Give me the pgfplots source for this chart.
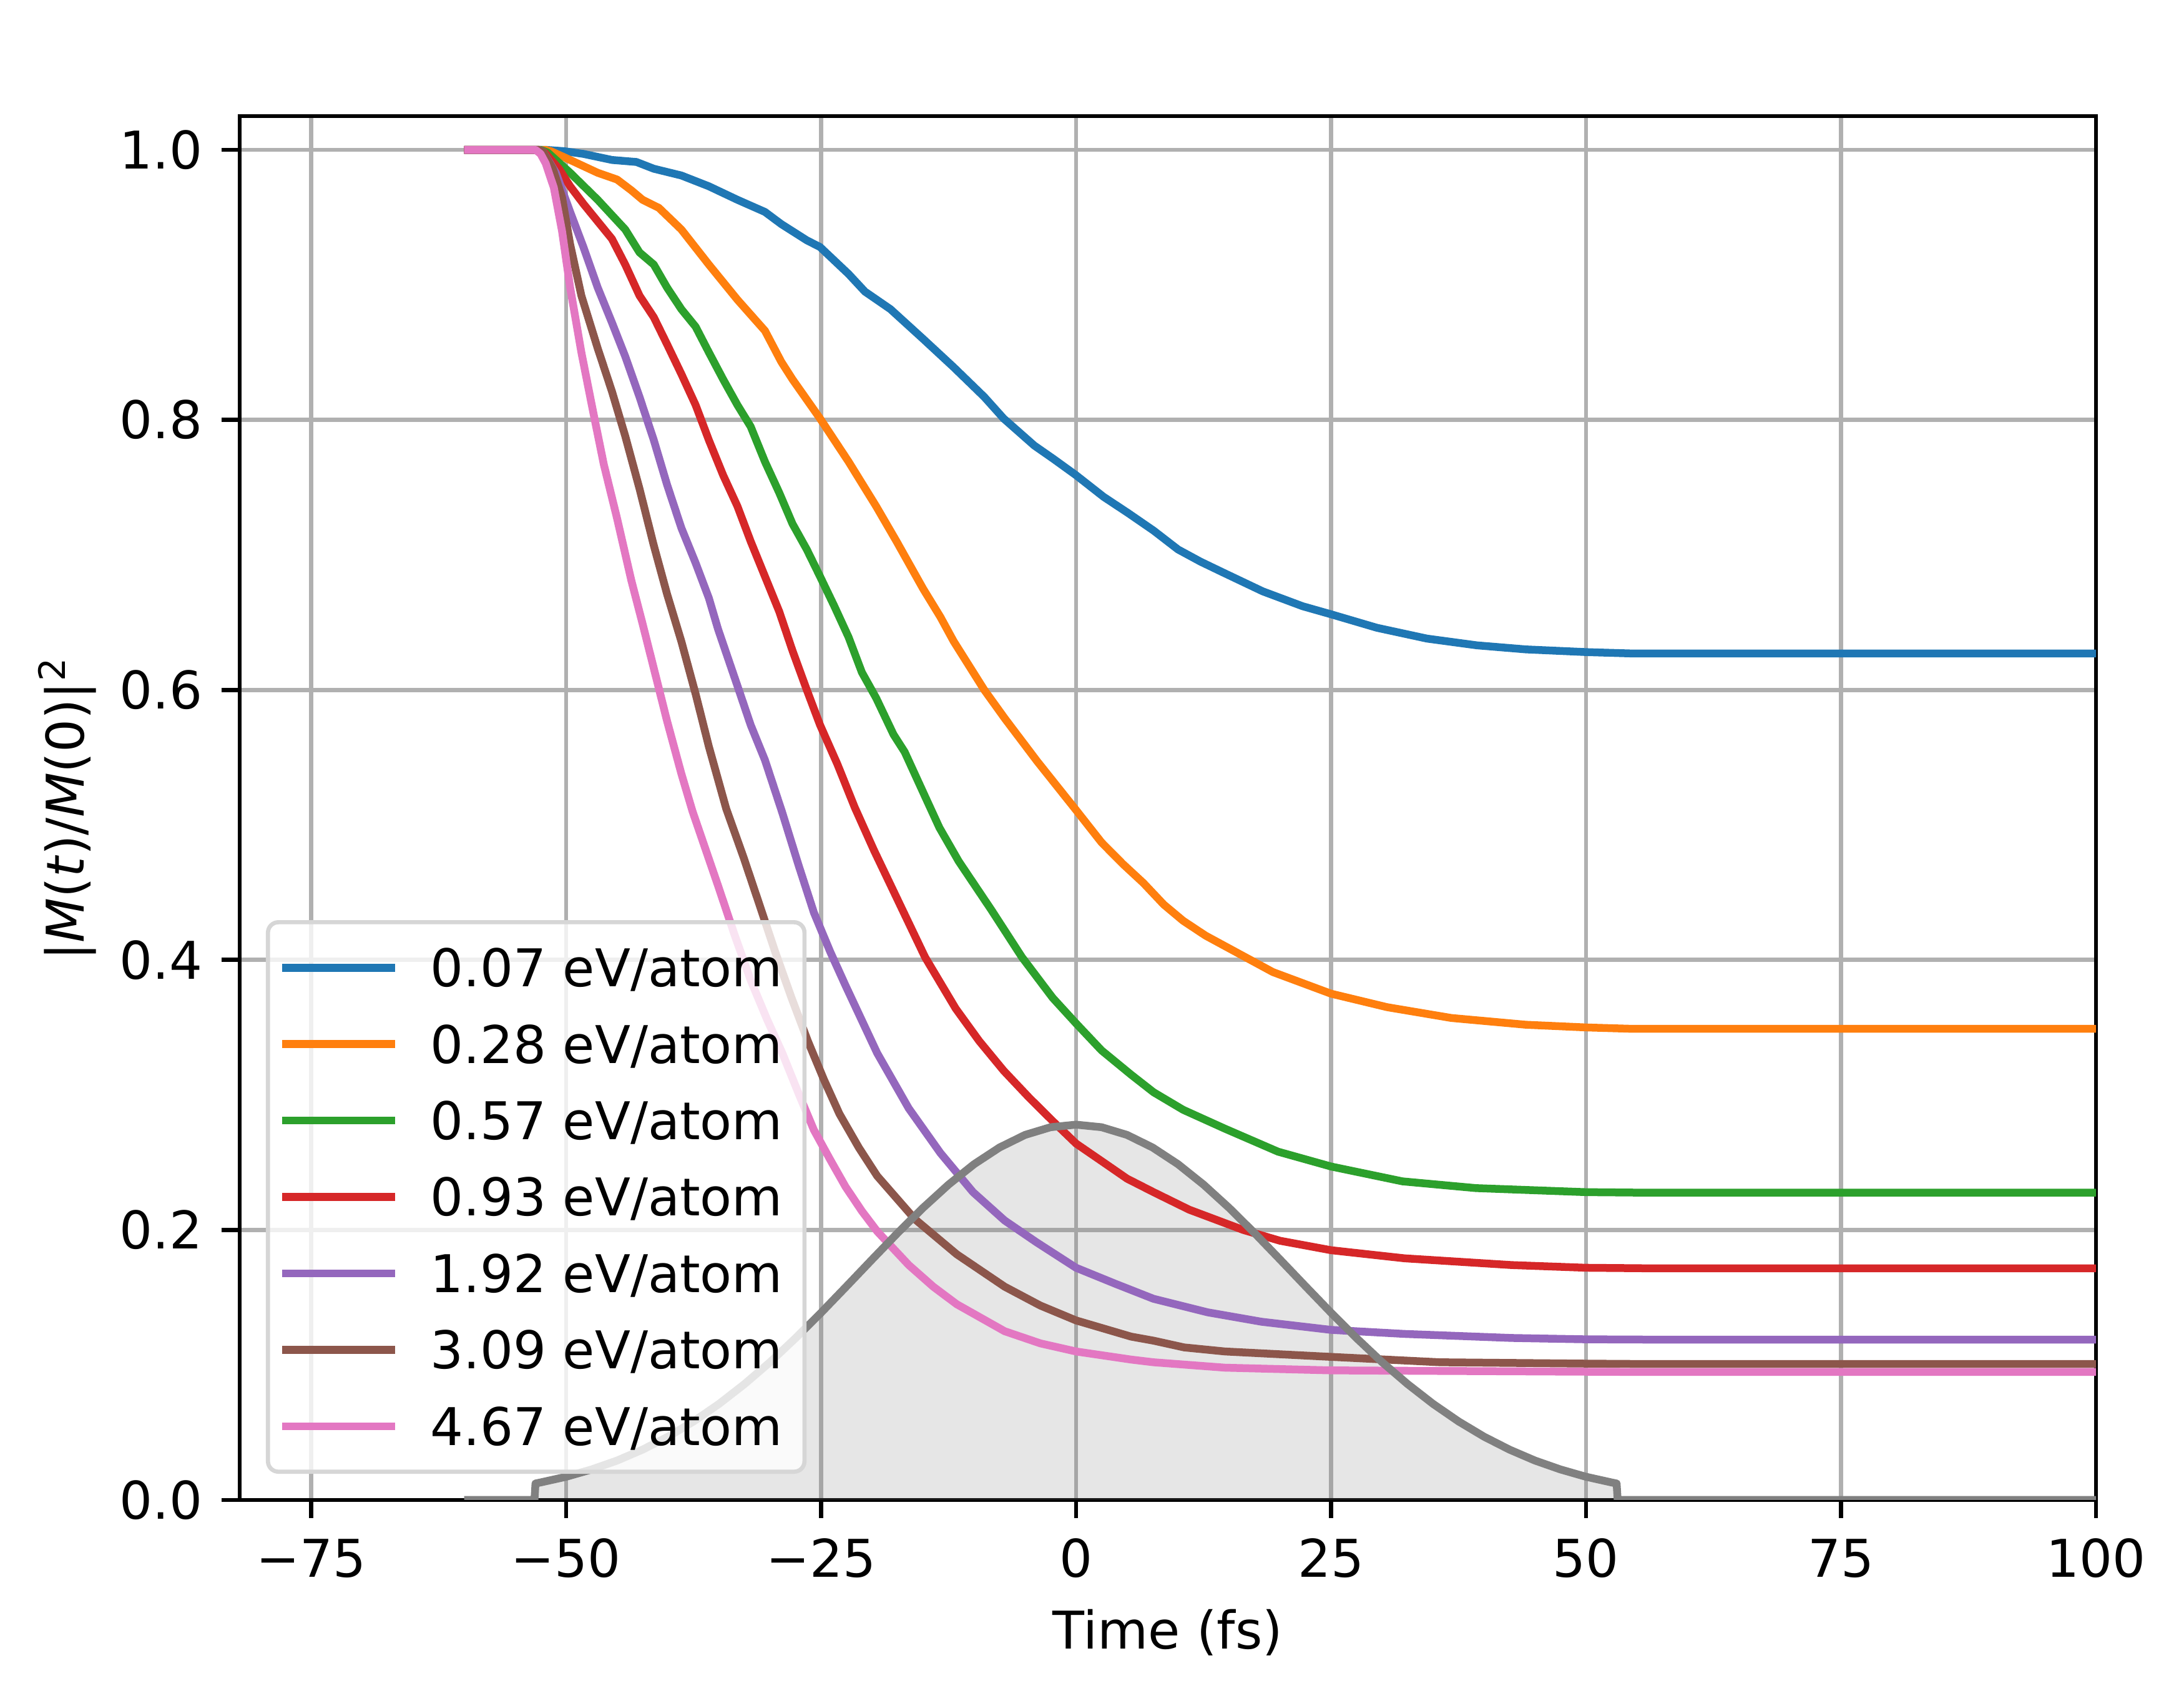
\documentclass[border=0pt]{standalone}
\usepackage{fontspec}
\setmainfont{DejaVu Sans}
\usepackage{pgfplots}
\pgfplotsset{compat=1.18}
\pgfplotsset{legend image code/.code={\draw[#1] (0pt,0pt) -- (21.7pt,0pt);}}
\definecolor{c0}{HTML}{1F77B4}
\definecolor{c1}{HTML}{FF7F0E}
\definecolor{c2}{HTML}{2CA02C}
\definecolor{c3}{HTML}{D62728}
\definecolor{c4}{HTML}{9467BD}
\definecolor{c5}{HTML}{8C564B}
\definecolor{c6}{HTML}{E377C2}
\definecolor{pulse}{HTML}{808080}
\definecolor{gridc}{HTML}{B0B0B0}
\definecolor{legedge}{HTML}{D6D6D6}
\newcommand{\lpad}{\rule{2.15pt}{0pt}}
\begin{document}
\begin{tikzpicture}
\useasboundingbox (-46.08pt,-37.68pt) rectangle (373.8pt,288.36pt);
\begin{axis}[
  at={(0pt,0pt)}, anchor=south west,
  width=356.88pt, height=266.04pt, scale only axis,
  xmin=-82, xmax=100, ymin=0, ymax=1.025,
  xtick={-75,-50,-25,0,25,50,75,100},
  xticklabels={−75,−50,−25,0,25,50,75,100},
  ytick={0,0.2,0.4,0.6,0.8,1.0},
  yticklabels={0.0,0.2,0.4,0.6,0.8,1.0},
  tick pos=left, tick align=outside, major tick length=3.5pt,
  tick style={black, line width=0.8pt},
  axis line style={black, line width=0.8pt},
  grid=major, grid style={gridc, line width=0.8pt},
  xticklabel style={anchor=base, inner sep=0pt, yshift=-11.38pt},
  yticklabel style={anchor=east, inner sep=0pt, xshift=-3.46pt},
  every axis x label/.style={at={(axis description cs:0.5,-0.1078)}, anchor=base},
  every axis y label/.style={at={(axis description cs:-0.08373,0.5)}, rotate=90, anchor=base},
  xlabel={Time (fs)},
  ylabel={|\textit{M}(\textit{t})/\textit{M}(0)|\textsuperscript{2}},
  legend cell align=left,
  legend style={at={(0.01412,0.01894)}, anchor=south west,
    draw=legedge, line width=0.8pt, rounded corners=2pt,
    fill=white, fill opacity=0.8, text opacity=1,
    inner xsep=2.0pt, inner ysep=5.1pt, row sep=7.4pt, column sep=6.08pt,
    font=\normalsize,
    nodes={inner sep=0pt, text height=7.29pt, text depth=0pt}},
]
% pulse fill
\addplot[draw=none, fill=pulse, fill opacity=0.2, forget plot] coordinates {
(-60,0) (-53.1,0) (-53,0.0122) (-52.5,0.0130) (-50,0.0172) (-47.5,0.0226) (-45,0.0292) (-42.5,0.0373) (-40,0.0469) (-37.5,0.0582) (-35,0.0712) (-32.5,0.0859) (-30,0.1021) (-27.5,0.1199) (-25,0.1387) (-22.5,0.1583) (-20,0.1781) (-17.5,0.1977) (-15,0.2164) (-12.5,0.2336) (-10,0.2487) (-7.5,0.2611) (-5,0.2704) (-2.5,0.2761) (0,0.2780) (2.5,0.2761) (5,0.2704) (7.5,0.2611) (10,0.2487) (12.5,0.2336) (15,0.2164) (17.5,0.1977) (20,0.1781) (22.5,0.1583) (25,0.1387) (27.5,0.1199) (30,0.1021) (32.5,0.0859) (35,0.0712) (37.5,0.0582) (40,0.0469) (42.5,0.0373) (45,0.0292) (47.5,0.0226) (50,0.0172) (52.5,0.0130) (53,0.0122) (53.1,0) (100,0)
} \closedcycle;
% 0.07
\addplot[c0, line width=1.5pt, line join=round] coordinates {
(-60,1.0) (-52,1.0) (-50.2,0.999) (-48.3,0.997) (-45.5,0.9925) (-43.1,0.991) (-41.4,0.986) (-38.7,0.981) (-36.0,0.973) (-33.2,0.963) (-30.5,0.954) (-28.9,0.945) (-26.4,0.933) (-25.1,0.928) (-23.7,0.918) (-22.3,0.908) (-20.7,0.895) (-18.2,0.882) (-15.0,0.860) (-12.0,0.839) (-9.0,0.817) (-7.1,0.801) (-4.1,0.781) (-2.2,0.771) (0,0.759) (2.7,0.743) (5.1,0.731) (7.6,0.718) (10.0,0.704) (12.2,0.695) (14.4,0.687) (18.3,0.673) (22.2,0.662) (25,0.656) (29.5,0.646) (34.4,0.638) (39.3,0.633) (44.1,0.630) (50,0.628) (54.4,0.627) (100,0.627)
};
\addlegendentry{0.07 eV/atom\lpad}
% 0.28
\addplot[c1, line width=1.5pt, line join=round] coordinates {
(-60,1.0) (-52,1.0) (-51.5,0.999) (-49.6,0.9925) (-46.9,0.983) (-45.0,0.978) (-43.6,0.970) (-42.5,0.963) (-40.9,0.957) (-38.7,0.941) (-36.0,0.915) (-33.2,0.889) (-30.5,0.866) (-28.9,0.843) (-27.8,0.830) (-25.1,0.801) (-22.3,0.769) (-19.6,0.736) (-17.6,0.710) (-15.0,0.675) (-13.3,0.654) (-12.0,0.636) (-9.0,0.600) (-7.0,0.579) (-3.8,0.547) (0,0.511) (2.5,0.487) (4.6,0.471) (6.6,0.457) (8.6,0.441) (10.5,0.429) (12.7,0.418) (14.9,0.409) (19.3,0.391) (25,0.375) (30.5,0.365) (36.8,0.357) (44.1,0.352) (50,0.350) (54.4,0.349) (100,0.349)
};
\addlegendentry{0.28 eV/atom\lpad}
% 0.57
\addplot[c2, line width=1.5pt, line join=round] coordinates {
(-60,1.0) (-52.5,1.0) (-51.8,0.998) (-49.6,0.983) (-46.9,0.963) (-44.2,0.941) (-42.8,0.924) (-41.4,0.915) (-40.1,0.898) (-38.7,0.882) (-37.3,0.869) (-36.0,0.850) (-34.6,0.830) (-33.2,0.811) (-31.9,0.795) (-30.5,0.769) (-29.1,0.746) (-27.8,0.723) (-26.4,0.704) (-25.1,0.684) (-23.7,0.662) (-22.3,0.639) (-21.0,0.613) (-19.6,0.594) (-17.9,0.567) (-16.8,0.554) (-14.8,0.521) (-13.4,0.498) (-11.5,0.473) (-8.3,0.437) (-5.3,0.402) (-2.3,0.372) (0,0.353) (2.5,0.333) (5.4,0.315) (7.6,0.302) (10.5,0.289) (14.6,0.275) (19.8,0.258) (25,0.247) (32,0.236) (39.2,0.231) (50,0.228) (56,0.2276) (100,0.2276)
};
\addlegendentry{0.57 eV/atom\lpad}
% 0.93
\addplot[c3, line width=1.5pt, line join=round] coordinates {
(-60,1.0) (-52.7,1.0) (-52.1,0.998) (-50.7,0.986) (-49.6,0.973) (-48.3,0.960) (-46.9,0.947) (-45.5,0.934) (-44.2,0.915) (-42.8,0.892) (-41.4,0.876) (-40.1,0.856) (-38.7,0.834) (-37.3,0.811) (-36.0,0.785) (-34.6,0.759) (-33.2,0.736) (-31.9,0.710) (-30.5,0.684) (-29.1,0.658) (-27.8,0.629) (-26.4,0.600) (-25.1,0.574) (-23.4,0.545) (-21.7,0.513) (-19.8,0.481) (-17.9,0.451) (-14.8,0.402) (-11.8,0.364) (-9.5,0.340) (-7.1,0.318) (-4.6,0.298) (-2.2,0.280) (0,0.264) (2.7,0.250) (5.0,0.238) (7.6,0.228) (11.1,0.215) (16.4,0.200) (20,0.192) (25,0.185) (32.2,0.179) (42.7,0.174) (50,0.172) (56,0.1716) (100,0.1716)
};
\addlegendentry{0.93 eV/atom\lpad}
% 1.92
\addplot[c4, line width=1.5pt, line join=round] coordinates {
(-60,1.0) (-52.7,1.0) (-52.3,0.999) (-51.0,0.983) (-49.6,0.954) (-48.3,0.928) (-46.9,0.898) (-45.5,0.872) (-44.2,0.847) (-42.8,0.817) (-41.4,0.785) (-40.1,0.752) (-38.7,0.720) (-37.3,0.694) (-36.0,0.668) (-35.1,0.645) (-33.2,0.603) (-31.9,0.574) (-30.5,0.548) (-28.8,0.509) (-27.2,0.470) (-25.7,0.435) (-24.1,0.406) (-22.6,0.381) (-19.5,0.331) (-16.4,0.290) (-13.3,0.257) (-10.1,0.228) (-7.0,0.207) (-3.9,0.191) (0,0.172) (3.9,0.160) (7.6,0.149) (12.9,0.139) (18.2,0.132) (25,0.126) (32.2,0.123) (42.7,0.120) (50,0.119) (56,0.1188) (100,0.1188)
};
\addlegendentry{1.92 eV/atom\lpad}
% 3.09
\addplot[c5, line width=1.5pt, line join=round] coordinates {
(-60,1.0) (-52.7,1.0) (-52.3,0.999) (-51.3,0.986) (-50.4,0.965) (-49.6,0.930) (-48.5,0.892) (-46.9,0.853) (-45.5,0.821) (-44.2,0.788) (-42.8,0.749) (-41.4,0.707) (-40.1,0.671) (-38.7,0.636) (-37.3,0.597) (-36.0,0.558) (-34.3,0.512) (-32.6,0.476) (-31.0,0.440) (-29.5,0.406) (-27.9,0.372) (-26.3,0.340) (-24.7,0.311) (-23.2,0.286) (-21.3,0.261) (-19.5,0.240) (-15.8,0.208) (-11.7,0.182) (-7.0,0.158) (-3.5,0.144) (0,0.133) (5.4,0.121) (7.6,0.118) (10.6,0.113) (14.6,0.110) (25,0.106) (35.7,0.102) (50,0.101) (56,0.1007) (100,0.1007)
};
\addlegendentry{3.09 eV/atom\lpad}
% 4.67
\addplot[c6, line width=1.5pt, line join=round] coordinates {
(-60,1.0) (-53.0,1.0) (-52.5,0.997) (-52.0,0.990) (-51.2,0.972) (-50.4,0.940) (-49.6,0.898) (-48.5,0.850) (-47.4,0.808) (-46.3,0.767) (-45.0,0.727) (-43.6,0.681) (-42.5,0.649) (-41.4,0.616) (-40.1,0.577) (-38.7,0.538) (-37.6,0.510) (-35.1,0.455) (-33.5,0.419) (-31.9,0.385) (-30.3,0.356) (-28.8,0.331) (-27.2,0.301) (-25.7,0.274) (-24.1,0.252) (-22.6,0.232) (-21.0,0.214) (-19.5,0.199) (-16.4,0.174) (-14.0,0.158) (-11.7,0.145) (-7.0,0.125) (-3.5,0.116) (0,0.110) (5.4,0.104) (7.6,0.102) (14.6,0.098) (25,0.096) (50,0.095) (56,0.0948) (100,0.0948)
};
\addlegendentry{4.67 eV/atom\lpad}
% pulse line
\addplot[pulse, line width=1.5pt, line join=round, forget plot] coordinates {
(-60,0) (-53.1,0) (-53,0.0122) (-52.5,0.0130) (-50,0.0172) (-47.5,0.0226) (-45,0.0292) (-42.5,0.0373) (-40,0.0469) (-37.5,0.0582) (-35,0.0712) (-32.5,0.0859) (-30,0.1021) (-27.5,0.1199) (-25,0.1387) (-22.5,0.1583) (-20,0.1781) (-17.5,0.1977) (-15,0.2164) (-12.5,0.2336) (-10,0.2487) (-7.5,0.2611) (-5,0.2704) (-2.5,0.2761) (0,0.2780) (2.5,0.2761) (5,0.2704) (7.5,0.2611) (10,0.2487) (12.5,0.2336) (15,0.2164) (17.5,0.1977) (20,0.1781) (22.5,0.1583) (25,0.1387) (27.5,0.1199) (30,0.1021) (32.5,0.0859) (35,0.0712) (37.5,0.0582) (40,0.0469) (42.5,0.0373) (45,0.0292) (47.5,0.0226) (50,0.0172) (52.5,0.0130) (53,0.0122) (53.1,0) (100,0)
};
\end{axis}
\end{tikzpicture}
\end{document}
